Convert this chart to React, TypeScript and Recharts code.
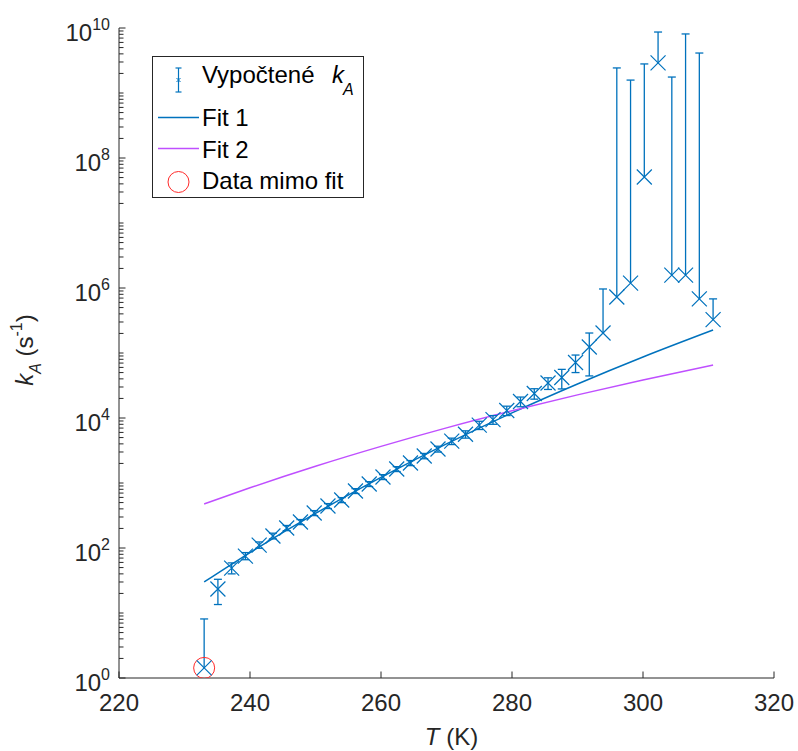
import React from "react";
import {
  ComposedChart,
  ErrorBar,
  Line,
  ReferenceDot,
  ReferenceLine,
  Scatter,
  XAxis,
  YAxis,
} from "recharts";

const BLUE = "#0072bd";
const PURPLE = "#bf4fff";
const RED = "#ff2a2a";
const AXIS = "#262626";
const FONT = '"Liberation Sans", Arial, Helvetica, sans-serif';

// vypočtené k_A (T v K, k v s^-1), horní/dolní mez chybové úsečky
const temps = [
  233.0, 235.1, 237.2, 239.3, 241.4, 243.5, 245.6, 247.7, 249.8, 251.9, 254.0, 256.1, 258.2,
  260.3, 262.4, 264.5, 266.6, 268.7, 270.8, 272.9, 275.0, 277.1, 279.2, 281.3, 283.4, 285.5,
  287.6, 289.7, 291.8, 293.9, 296.0, 298.1, 300.2, 302.3, 304.4, 306.5, 308.6, 310.7,
];
const kA = [
  1.43, 23.4, 49, 75, 111, 153, 203, 251, 345, 443, 547, 753, 966, 1237, 1642, 2031, 2603, 3336,
  4400, 5620, 7770, 9440, 13030, 17960, 23850, 34530, 42000, 71500, 123700, 203000, 727500,
  1.19e6, 5.1e7, 2.9e9, 1.58e6, 1.58e6, 6.8e5, 3.27e5,
];
const kHigh = [
  8.1, 33, 59, 85, 124, 169, 222, 274, 376, 482, 596, 818, 1050, 1345, 1785, 2215, 2850, 3680,
  4900, 6350, 8900, 10900, 15200, 21000, 28200, 41500, 56000, 93000, 203000, 966000, 2.43e9,
  1.58e9, 2.8e9, 8.67e9, 1.76e9, 8.1e9, 4.12e9, 6.8e5,
];
// null = dolní mez je záporná, v log ose se nekreslí
const kLow = [
  null, 13.5, 40, 66, 99, 138, 185, 229, 315, 405, 499, 689, 883, 1130, 1500, 1850, 2360, 2990,
  3900, 4900, 6650, 8000, 10900, 14900, 19500, 27500, 28000, 50000, 44400, null, null, null,
  null, null, null, null, null, null,
];

// body mimo fit
const outT = [233.0];
const outK = [1.43];

// fity
const fitT = [233, 240, 250, 260, 270, 280, 290, 300, 310.7];
const fit1 = [30, 85, 340, 1220, 3990, 12000, 33400, 86900, 226000];
const fit2 = [475, 843, 1810, 3660, 7050, 12900, 22700, 38500, 65300];

const xTicks = [220, 240, 260, 280, 300, 320];
const yTicks: number[] = [];
for (let e = 0; e < 10; e++) for (let m = 1; m < 10; m++) yTicks.push(m * 10 ** e);
yTicks.push(1e10);

const points = temps.map((T, i) => ({
  T,
  k: kA[i],
  err: kLow[i] == null ? undefined : [kA[i] - (kLow[i] as number), kHigh[i] - kA[i]],
}));
const upOnly = temps
  .map((T, i) => ({ T, k: kA[i], hi: kHigh[i], lo: kLow[i] }))
  .filter((p) => p.lo == null);
const outliers = outT.map((T, i) => ({ T, k: outK[i] }));
const fit1Data = fitT.map((T, i) => ({ T, k: fit1[i] }));
const fit2Data = fitT.map((T, i) => ({ T, k: fit2[i] }));

function XMark(props: any) {
  const { cx, cy } = props;
  const s = 7.5;
  return (
    <path
      d={`M${cx - s},${cy - s}L${cx + s},${cy + s}M${cx - s},${cy + s}L${cx + s},${cy - s}`}
      stroke={BLUE}
      strokeWidth={1.2}
      fill="none"
    />
  );
}

function RingMark(props: any) {
  const { cx, cy } = props;
  return <circle cx={cx} cy={cy} r={10.5} stroke={RED} strokeWidth={1} fill="none" />;
}

function Cap(props: any) {
  const { cx, cy } = props;
  return <line x1={cx - 4} x2={cx + 4} y1={cy} y2={cy} stroke={BLUE} strokeWidth={1.3} />;
}

function XTick(props: any) {
  const { x, y, payload } = props;
  return (
    <g>
      <line x1={x} x2={x} y1={y} y2={y - 6.5} stroke={AXIS} />
      <text x={x} y={y + 33} textAnchor="middle" fill={AXIS} fontFamily={FONT} fontSize={24}>
        {payload.value}
      </text>
    </g>
  );
}

function YTick(props: any) {
  const { x, y, payload } = props;
  const lg = Math.log10(payload.value);
  const e = Math.round(lg);
  const major = Math.abs(lg - e) < 1e-9 && e % 2 === 0;
  return (
    <g>
      <line x1={x} x2={x + (major ? 6.5 : 4.5)} y1={y} y2={y} stroke={AXIS} />
      {major ? (
        <text x={x - 9} y={y + 13} textAnchor="end" fill={AXIS} fontFamily={FONT} fontSize={24}>
          10
          <tspan dy={-11} fontSize={16}>
            {e}
          </tspan>
        </text>
      ) : null}
    </g>
  );
}

function XTitle(props: any) {
  const vb = props.viewBox || { x: 119, y: 678, width: 655 };
  return (
    <text x={vb.x + vb.width / 2 + 5} y={745} textAnchor="middle" fill={AXIS} fontFamily={FONT} fontSize={24}>
      <tspan fontStyle="italic">T</tspan> (K)
    </text>
  );
}

function YTitle(props: any) {
  const vb = props.viewBox || { y: 28, height: 650 };
  const cy = vb.y + vb.height / 2 - 3;
  return (
    <text
      x={33}
      y={cy}
      transform={`rotate(-90, 33, ${cy})`}
      textAnchor="middle"
      fill={AXIS}
      fontFamily={FONT}
      fontSize={24}
    >
      <tspan fontStyle="italic">k</tspan>
      <tspan dy={8} fontSize={16} fontStyle="italic">
        A
      </tspan>
      <tspan dy={-8}> (s</tspan>
      <tspan dy={-11} fontSize={16}>
        -1
      </tspan>
      <tspan dy={11}>)</tspan>
    </text>
  );
}

function LegendBox() {
  const t = { fill: "#000", fontFamily: FONT, fontSize: 24 };
  return (
    <svg width={798} height={751} style={{ position: "absolute", left: 0, top: 0, pointerEvents: "none" }}>
      <rect x={152.5} y={56.5} width={211} height={141} fill="#fff" stroke={AXIS} strokeWidth={1} />
      <line x1={178.5} x2={178.5} y1={68} y2={92} stroke={BLUE} strokeWidth={1.2} />
      <line x1={175.5} x2={181.5} y1={68} y2={68} stroke={BLUE} strokeWidth={1.2} />
      <line x1={175.5} x2={181.5} y1={92} y2={92} stroke={BLUE} strokeWidth={1.2} />
      <path d="M176.5,78L180.5,82M176.5,82L180.5,78" stroke={BLUE} strokeWidth={1} />
      <text x={202} y={83} {...t}>
        Vypočtené
      </text>
      <text x={332} y={83} {...t} fontStyle="italic">
        k
      </text>
      <text x={343} y={95} {...t} fontSize={16} fontStyle="italic">
        A
      </text>
      <line x1={158} x2={199} y1={117.5} y2={117.5} stroke={BLUE} strokeWidth={1.5} />
      <text x={202} y={126} {...t}>
        Fit 1
      </text>
      <line x1={158} x2={199} y1={148.5} y2={148.5} stroke={PURPLE} strokeWidth={1.5} />
      <text x={202} y={158} {...t}>
        Fit 2
      </text>
      <circle cx={178.5} cy={182} r={10.5} stroke={RED} strokeWidth={1} fill="none" />
      <text x={202} y={189} {...t}>
        Data mimo fit
      </text>
    </svg>
  );
}

export default function App() {
  return (
    <div style={{ position: "absolute", left: 0, top: 0, width: 798, height: 751, background: "#fff" }}>
      <ComposedChart width={798} height={751} margin={{ top: 28, right: 24, bottom: 0, left: 0 }}>
        <XAxis
          type="number"
          dataKey="T"
          domain={[220, 320]}
          ticks={xTicks}
          interval={0}
          allowDataOverflow
          height={73}
          stroke={AXIS}
          tickLine={false}
          tickSize={0}
          tickMargin={0}
          tick={<XTick />}
          label={<XTitle />}
        />
        <YAxis
          type="number"
          dataKey="k"
          scale="log"
          domain={[1, 1e10]}
          ticks={yTicks}
          interval={0}
          allowDataOverflow
          width={119}
          stroke={AXIS}
          tickLine={false}
          tickSize={0}
          tickMargin={0}
          tick={<YTick />}
          label={<YTitle />}
        />
        <Line data={fit1Data} dataKey="k" type="monotone" stroke={BLUE} strokeWidth={1.5} dot={false} isAnimationActive={false} />
        <Line data={fit2Data} dataKey="k" type="monotone" stroke={PURPLE} strokeWidth={1.5} dot={false} isAnimationActive={false} />
        {upOnly.map((p) => (
          <ReferenceLine
            key={`l${p.T}`}
            segment={[
              { x: p.T, y: p.k },
              { x: p.T, y: p.hi },
            ]}
            stroke={BLUE}
            strokeWidth={1.3}
          />
        ))}
        {upOnly.map((p) => (
          <ReferenceDot key={`c${p.T}`} x={p.T} y={p.hi} shape={<Cap />} />
        ))}
        <Scatter data={outliers} shape={<RingMark />} isAnimationActive={false} />
        <Scatter data={points} shape={<XMark />} isAnimationActive={false}>
          <ErrorBar dataKey="err" direction="y" width={4} stroke={BLUE} strokeWidth={1.3} />
        </Scatter>
      </ComposedChart>
      <LegendBox />
    </div>
  );
}
